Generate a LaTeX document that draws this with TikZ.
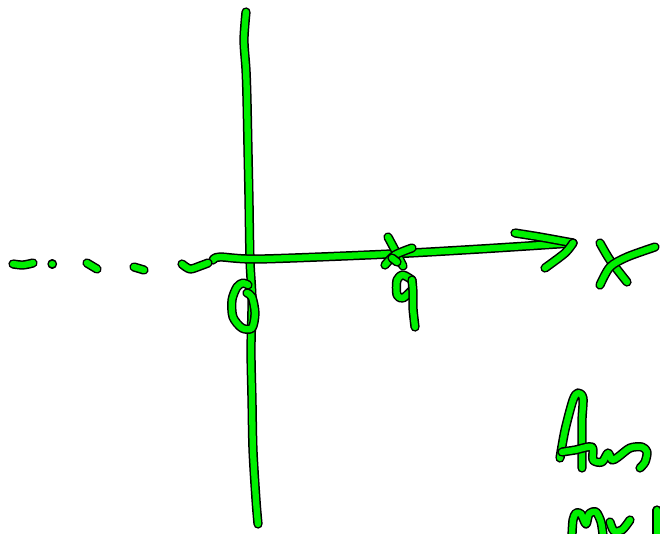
\documentclass[tikz,border=0pt]{standalone}
\definecolor{penGreen}{RGB}{0,240,0}
\begin{document}
\begin{tikzpicture}[x=1pt,y=-1pt,
  ink/.style={draw=penGreen, line width=6.3pt, line cap=round, line join=round,
    preaction={draw=black, line width=9.3pt, line cap=round, line join=round}}]
\useasboundingbox (0,0) rectangle (660,533);
% vertical axis
\draw[ink] plot[smooth] coordinates {(246,12) (244,40) (246,70) (247,100) (248,150) (249,200) (250,260) (252,300) (251,350) (252,400) (253,450) (256,500) (258,524)};
% horizontal axis
\draw[ink] plot[smooth] coordinates {(213,260) (220,257) (260,259) (390,254) (480,249) (573,243)};
% arrow head
\draw[ink] plot[smooth] coordinates {(515,233) (540,237) (573,243)};
\draw[ink] plot[smooth] coordinates {(573,243) (565,253) (545,268)};
% dashes on the left
\draw[ink] plot[smooth] coordinates {(13,264) (23,265) (33,263)};
\draw[ink] (52,264) -- (52.5,264);
\draw[ink] (87,263) -- (97,269);
\draw[ink] (134,267) -- (144,270);
\draw[ink] plot[smooth] coordinates {(182,264) (190,269) (200,266) (208,263)};
% origin 0
\draw[ink] plot[smooth] coordinates {(248,285) (243,283) (237,287) (232,300) (233,317) (242,328) (252,328) (255,313) (252,297) (247,293)};
% star at q
\draw[ink] plot[smooth] coordinates {(388,237) (396,252) (403,266)};
\draw[ink] plot[smooth] coordinates {(385,265) (395,255) (412,248)};
\draw[ink] (392,258) -- (397,262);
% q
\draw[ink] plot[smooth] coordinates {(412,280) (403,275) (397,280) (397,295) (403,298) (412,290)};
\draw[ink] plot[smooth] coordinates {(412,280) (413,292) (413,308) (415,327)};
% x label
\draw[ink] plot[smooth] coordinates {(600,243) (610,260) (627,282)};
\draw[ink] plot[smooth] coordinates {(655,247) (627,257) (610,267) (600,285)};
% Aus
\draw[ink] plot[smooth] coordinates {(560,458) (565,430) (573,400) (578,393) (583,398) (582,420) (582,447) (582,468)};
\draw[ink] plot[smooth] coordinates {(562,452) (575,450) (592,447) (593,460) (602,462) (608,453) (612,460) (618,457) (630,448) (642,447) (647,452) (645,462) (640,468)};
% mul (cut off)
\draw[ink] plot[smooth] coordinates {(572,535) (573,520) (576,513) (581,514) (586,524) (589,514) (596,512) (601,522) (603,535)};
\draw[ink] plot[smooth] coordinates {(610,522) (614,531) (622,530) (630,520)};
\draw[ink] (657,510) -- (657,535);
\end{tikzpicture}
\end{document}
